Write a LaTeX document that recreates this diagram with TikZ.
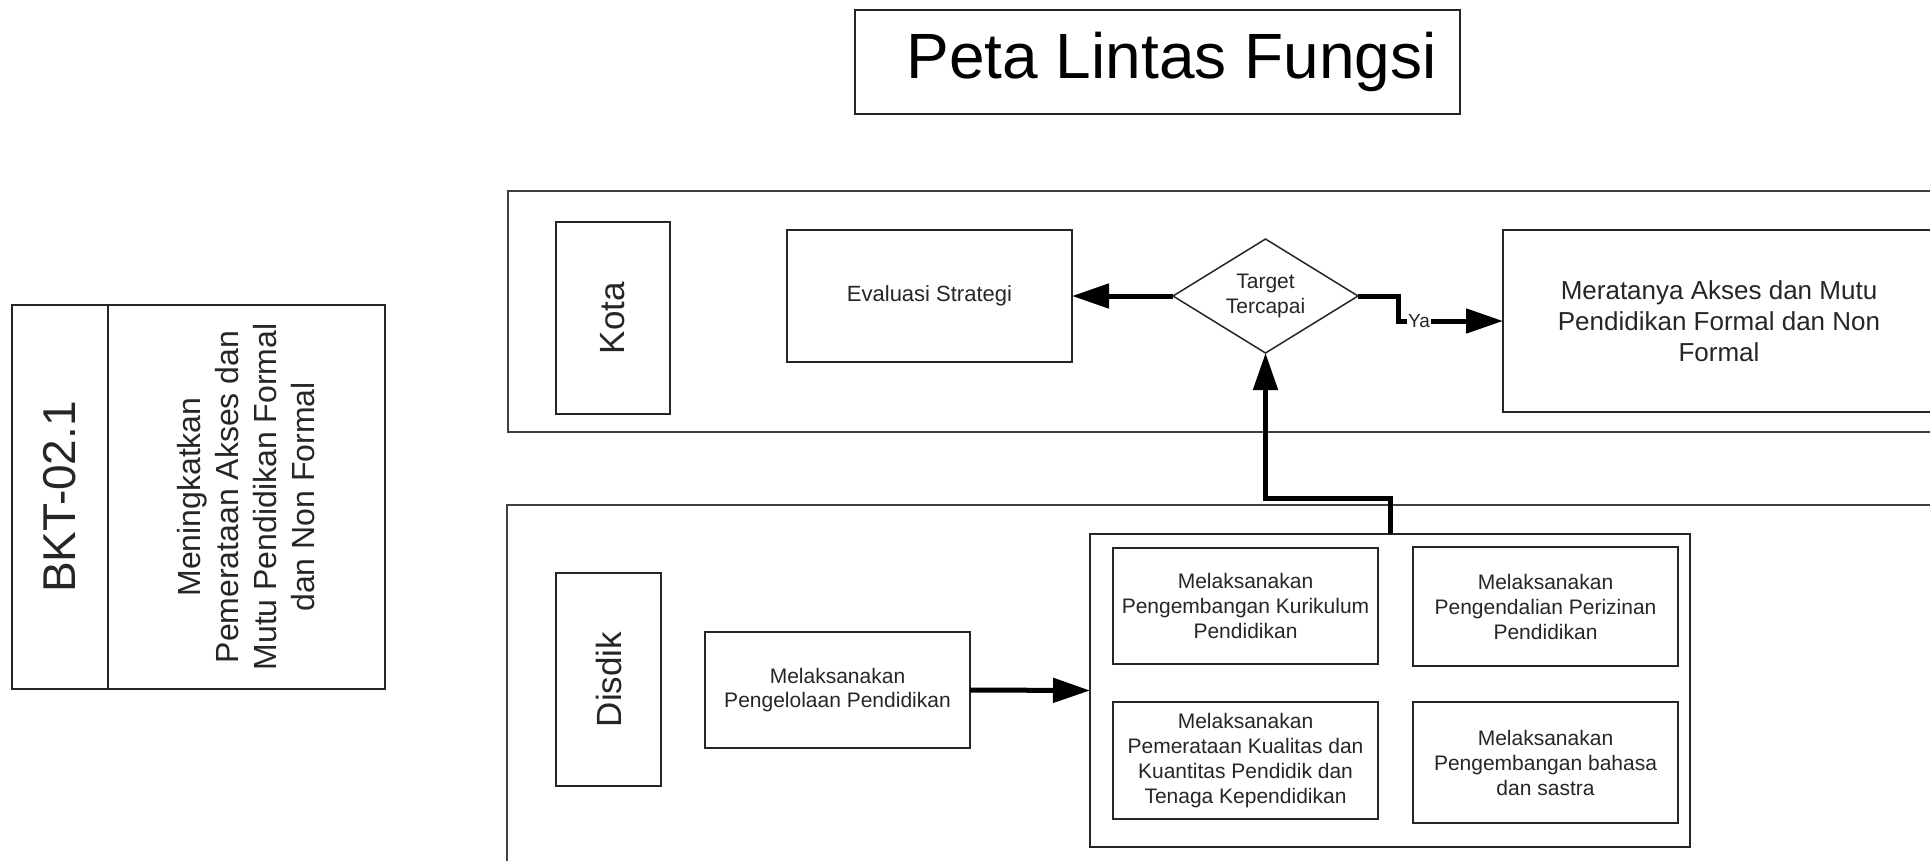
\documentclass[tikz,border=0pt]{standalone}
\usepackage{fontspec}
\setmainfont{Liberation Sans}
\usetikzlibrary{shapes.geometric,arrows.meta}
\newcommand\fsz[2]{\fontsize{#1}{#2}\selectfont}

\begin{document}
\begin{tikzpicture}[x=1pt,y=-1pt,
  box/.style={draw=black!85, line width=2pt, inner sep=2pt, outer sep=0pt,
              align=center, text=black!85},
  lane/.style={draw=black!75, line width=2pt, inner sep=0pt, outer sep=0pt},
  flow/.style={line width=5pt, -{Triangle[length=37pt,width=24pt]}},
  smalltext/.style={font=\fsz{21}{25}},
]
% page area
\fill[white] (0,0) rectangle (1930,860);
\useasboundingbox (0,0) rectangle (1930,860);

% heading: frame and its caption
\node[box, minimum width=605pt, minimum height=104pt] (titlebox) at (1157.5,62) {};
\node[inner sep=0pt, text=black, font=\fsz{64}{72}] (title) at (1171.5,62)
      {Peta Lintas Fungsi};

% goal card on the left
\node[box, rotate=90, minimum width=384pt, minimum height=96pt,
      font=\fsz{46}{55}] (bktcode) at (60,497) {BKT-02.1};
\node[box, rotate=90, minimum width=384pt, minimum height=277pt,
      font=\fsz{32}{38}] (bktgoal) at (246.5,497)
      {Meningkatkan\\Pemerataan Akses dan\\Mutu Pendidikan Formal\\dan Non Formal};

% swimlanes
\node[lane, anchor=north west, minimum width=1600pt, minimum height=241pt]
      (kotalane) at (508,191) {};
\node[lane, anchor=north west, minimum width=1600pt, minimum height=420pt]
      (disdiklane) at (507,505) {};

\node[box, rotate=90, minimum width=192pt, minimum height=114pt,
      font=\fsz{35}{42}] (kota) at (613,318) {Kota};
\node[box, rotate=90, minimum width=213pt, minimum height=105pt,
      font=\fsz{35}{42}] (disdik) at (608.5,679.5) {Disdik};

% Kota lane
\node[box, minimum width=285pt, minimum height=132pt, font=\fsz{22}{26}]
      (eval) at (929.5,296) {Evaluasi Strategi};
\node[draw=black!85, line width=1.5pt, diamond, aspect=1.62, inner sep=0pt,
      outer sep=0pt, minimum width=185pt, minimum height=114pt, align=center,
      smalltext, text=black!85] (dec) at (1265.5,296) {Target\\Tercapai};
\node[box, minimum width=432pt, minimum height=182pt, font=\fsz{26}{31}]
      (mer) at (1719,321)
      {Meratanya Akses dan Mutu\\Pendidikan Formal dan Non\\Formal};

% Disdik lane
\node[box, minimum width=265pt, minimum height=116pt, font=\fsz{21}{24}]
      (proc) at (837.5,690) {Melaksanakan\\Pengelolaan Pendidikan};
\node[box, minimum width=600pt, minimum height=313pt] (grp) at (1390,690.5) {};
\node[box, minimum width=265pt, minimum height=116pt, smalltext]
      (kurikulum) at (1245.5,606)
      {Melaksanakan\\Pengembangan Kurikulum\\Pendidikan};
\node[box, minimum width=265pt, minimum height=119pt, smalltext]
      (perizinan) at (1545.5,606.5)
      {Melaksanakan\\Pengendalian Perizinan\\Pendidikan};
\node[box, minimum width=265pt, minimum height=117pt, smalltext]
      (pemerataan) at (1245.5,760.5)
      {Melaksanakan\\Pemerataan Kualitas dan\\Kuantitas Pendidik dan\\Tenaga Kependidikan};
\node[box, minimum width=265pt, minimum height=121pt, smalltext]
      (bahasa) at (1545.5,762.5)
      {Melaksanakan\\Pengembangan bahasa\\dan sastra};

% connectors
\draw[flow] (dec.west) -- (eval.east);
\draw[flow] (dec.east) -- ++(40,0) |- (mer.west)
      node[pos=0.6, fill=white, inner sep=1pt, font=\fsz{19}{22},
           text=black!85] (ya) {Ya};
\draw[flow] (proc.east) -- (grp.west);
\draw[flow] (grp.north) -- ++(0,-36) -| (dec.south);
\end{tikzpicture}
\end{document}
